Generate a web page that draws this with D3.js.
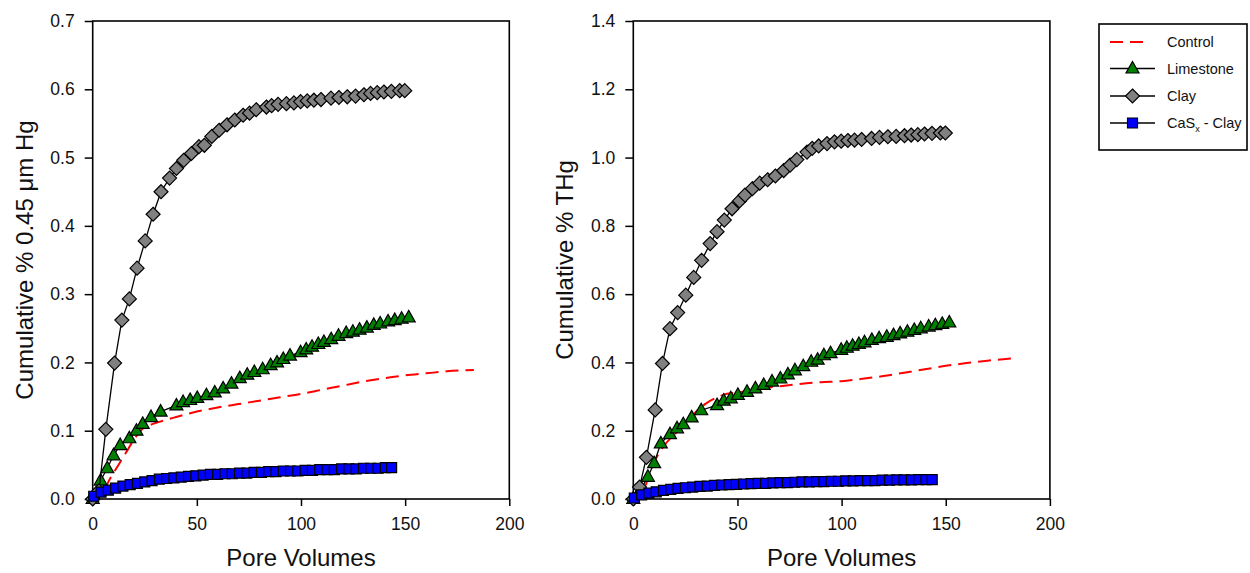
<!DOCTYPE html>
<html>
<head>
<meta charset="utf-8">
<script src="https://cdn.jsdelivr.net/npm/d3@7"></script>
<style>
  html, body { margin: 0; padding: 0; background: #fff; }
  svg { display: block; font-family: Arial, "Liberation Sans", sans-serif; }
</style>
</head>
<body>
<svg id="chart" width="1250" height="573"></svg>
<script>
// ---------- DATA ----------
const xTicks = [0, 50, 100, 150, 200];
const yTicksLeft = [0.0, 0.1, 0.2, 0.3, 0.4, 0.5, 0.6, 0.7];
const yTicksRight = [0.0, 0.2, 0.4, 0.6, 0.8, 1.0, 1.2, 1.4];
const legendLabels = ["Control", "Limestone", "Clay", "CaSx - Clay"];

// Control (dashed line)
const controlXLeft = [6, 8, 12, 16, 20, 24, 28, 32, 40, 50, 60, 70, 80, 90, 100, 110, 120, 130, 140, 150, 160, 170, 183];
const controlYLeft = [0.015, 0.028, 0.048, 0.068, 0.088, 0.103, 0.109, 0.113, 0.120, 0.128, 0.134, 0.139, 0.144, 0.149, 0.154, 0.160, 0.166, 0.172, 0.177, 0.181, 0.184, 0.187, 0.189];
const controlXRight = [6, 8, 11, 15, 20, 25, 30, 35, 40, 45, 50, 55, 60, 70, 80, 90, 100, 110, 120, 130, 140, 150, 160, 170, 183];
const controlYRight = [0.04, 0.08, 0.12, 0.158, 0.19, 0.22, 0.255, 0.28, 0.297, 0.308, 0.312, 0.316, 0.322, 0.330, 0.337, 0.342, 0.345, 0.352, 0.360, 0.370, 0.380, 0.390, 0.398, 0.405, 0.412];

// Limestone (triangles)
const limeX = [0, 3.8, 7, 10, 13.2, 17.6, 21, 24, 28, 32.6, 40.2, 43.4, 46.8, 50.2, 54.6, 58.6, 62.6, 66.6, 70.6, 74.2, 77.6, 81.6, 85.4, 88.5, 91.5, 94.7, 99.8, 102.5, 105.3, 108.3, 111, 114.5, 118, 121.7, 124.9, 128.1, 131.6, 134.9, 138, 141.8, 145, 148.3, 151.7];
const limeYLeft = [0, 0.027, 0.045, 0.064, 0.079, 0.089, 0.100, 0.110, 0.120, 0.128, 0.137, 0.142, 0.145, 0.148, 0.152, 0.156, 0.162, 0.169, 0.177, 0.182, 0.186, 0.190, 0.196, 0.200, 0.205, 0.210, 0.215, 0.219, 0.223, 0.227, 0.230, 0.234, 0.239, 0.243, 0.245, 0.248, 0.251, 0.255, 0.257, 0.260, 0.262, 0.264, 0.266];
const limeYRight = [0, 0.03, 0.065, 0.105, 0.163, 0.19, 0.207, 0.219, 0.239, 0.260, 0.275, 0.288, 0.295, 0.305, 0.314, 0.324, 0.334, 0.344, 0.353, 0.365, 0.377, 0.389, 0.402, 0.408, 0.421, 0.427, 0.437, 0.443, 0.449, 0.454, 0.459, 0.466, 0.471, 0.475, 0.480, 0.485, 0.490, 0.495, 0.500, 0.505, 0.509, 0.513, 0.517];

// Clay (diamonds)
const clayX = [0, 3, 6.3, 10.5, 14, 17.6, 21.3, 25.2, 29, 32.8, 36.9, 40.2, 43.7, 47.4, 51, 53.6, 57.2, 60.7, 64.5, 68.2, 72.2, 75.3, 78.5, 83.4, 85.9, 89, 93, 96.6, 99.8, 103, 106.2, 109.6, 114.4, 118.2, 122.2, 126.2, 130.2, 133.4, 136.6, 139.8, 143.4, 147.4, 149.8];
const clayYLeft = [0, 0.012, 0.102, 0.199, 0.262, 0.293, 0.338, 0.378, 0.417, 0.450, 0.470, 0.484, 0.496, 0.506, 0.516, 0.518, 0.531, 0.540, 0.548, 0.555, 0.562, 0.565, 0.570, 0.574, 0.576, 0.578, 0.579, 0.580, 0.582, 0.583, 0.584, 0.585, 0.587, 0.588, 0.589, 0.590, 0.592, 0.594, 0.595, 0.596, 0.597, 0.598, 0.598];
const clayYRight = [0, 0.035, 0.122, 0.261, 0.397, 0.499, 0.546, 0.597, 0.649, 0.699, 0.748, 0.783, 0.817, 0.850, 0.873, 0.890, 0.909, 0.925, 0.935, 0.946, 0.962, 0.978, 0.994, 1.016, 1.027, 1.034, 1.041, 1.046, 1.048, 1.050, 1.051, 1.053, 1.056, 1.059, 1.061, 1.062, 1.064, 1.066, 1.067, 1.069, 1.071, 1.072, 1.072];

// CaSx - Clay (squares)
const casxX = [0.5, 4, 7.5, 11, 14.5, 18, 21.5, 25, 28.5, 32, 35.5, 39, 42.5, 46, 49.5, 53, 56.5, 60, 63.5, 67, 70.5, 74, 77.5, 81, 84.5, 88, 91.5, 95, 98.5, 102, 105.5, 109, 112.5, 116, 119.5, 123, 126.5, 130, 133.5, 137, 140.5, 143.5];
const casxYLeft = [0.004, 0.010, 0.013, 0.016, 0.019, 0.021, 0.023, 0.025, 0.027, 0.029, 0.030, 0.031, 0.032, 0.033, 0.034, 0.035, 0.036, 0.036, 0.037, 0.037, 0.038, 0.038, 0.039, 0.039, 0.040, 0.040, 0.041, 0.041, 0.041, 0.042, 0.042, 0.043, 0.043, 0.043, 0.044, 0.044, 0.044, 0.045, 0.045, 0.045, 0.046, 0.046];
const casxYRight = [0.003, 0.012, 0.017, 0.021, 0.025, 0.028, 0.031, 0.033, 0.035, 0.037, 0.038, 0.040, 0.041, 0.042, 0.043, 0.044, 0.045, 0.046, 0.046, 0.047, 0.048, 0.048, 0.049, 0.050, 0.050, 0.051, 0.051, 0.052, 0.052, 0.053, 0.053, 0.054, 0.054, 0.054, 0.055, 0.055, 0.056, 0.056, 0.056, 0.057, 0.057, 0.057];

// ---------- DRAWING ----------
const svg = d3.select("#chart");
const zip = (xs, ys) => xs.map((x, i) => [x, ys[i]]);

const shapes = {
  triangle: "M0,-7L6.5,4.5L-6.5,4.5Z",
  diamond: "M0,-7L7,0L0,7L-7,0Z",
  square: "M-5,-5L5,-5L5,5L-5,5Z"
};
const fills = { triangle: "#008000", diamond: "#808080", square: "#0000ff" };

function panel(opts) {
  const x = d3.scaleLinear().domain([0, 200]).range([opts.left, opts.left + 416.6]);
  const y = d3.scaleLinear().domain([0, opts.ymax]).range([499, 21]);
  const g = svg.append("g");

  // axes
  const ya = g.append("g").attr("transform", `translate(${opts.left},0)`)
    .call(d3.axisLeft(y).tickValues(opts.yTicks).tickFormat(d3.format(".1f")).tickSize(8).tickPadding(10));
  const xa = g.append("g").attr("transform", `translate(0,499)`)
    .call(d3.axisBottom(x).tickValues(xTicks).tickFormat(d3.format("d")).tickSize(7).tickPadding(12));
  [ya, xa].forEach(a => {
    a.select(".domain").remove();
    a.selectAll("line").attr("stroke", "#000").attr("stroke-width", 1.5);
    a.selectAll("text").attr("fill", "#111").style("font-size", "17.5px")
      .style("font-family", "Arial, 'Liberation Sans', sans-serif");
  });

  // frame
  g.append("rect").attr("x", x(0)).attr("y", y(opts.ymax))
    .attr("width", x(200) - x(0)).attr("height", y(0) - y(opts.ymax))
    .attr("fill", "none").attr("stroke", "#000").attr("stroke-width", 1.6);

  // axis titles
  g.append("text").attr("x", (x(0) + x(200)) / 2).attr("y", 566)
    .attr("text-anchor", "middle").style("font-size", "24px").attr("fill", "#111").text("Pore Volumes");
  g.append("text").attr("transform", `translate(${opts.titleX},260) rotate(-90)`)
    .attr("text-anchor", "middle").style("font-size", "24px").attr("fill", "#111").text(opts.yTitle);

  const line = d3.line().x(d => x(d[0])).y(d => y(d[1]));

  // control
  g.append("path").datum(zip(opts.controlX, opts.controlY)).attr("d", line.curve(d3.curveMonotoneX))
    .attr("fill", "none").attr("stroke", "#ff0000").attr("stroke-width", 2).attr("stroke-dasharray", "13,7");
  line.curve(d3.curveLinear);

  const series = [
    { data: zip(limeX, opts.limeY), shape: "triangle" },
    { data: zip(clayX, opts.clayY), shape: "diamond" },
    { data: zip(casxX, opts.casxY), shape: "square" }
  ];
  series.forEach(s => {
    g.append("path").datum(s.data).attr("d", line)
      .attr("fill", "none").attr("stroke", "#000").attr("stroke-width", 1.3);
    g.append("g").selectAll("path").data(s.data).join("path")
      .attr("transform", d => `translate(${x(d[0])},${y(d[1])})`)
      .attr("d", shapes[s.shape]).attr("fill", fills[s.shape])
      .attr("stroke", "#000").attr("stroke-width", 1.2).attr("stroke-linejoin", "miter");
  });
}

panel({ left: 92.7, ymax: 0.7, yTicks: yTicksLeft, titleX: 33, yTitle: "Cumulative % 0.45 \u03BCm Hg",
  controlX: controlXLeft, controlY: controlYLeft, limeY: limeYLeft, clayY: clayYLeft, casxY: casxYLeft });
panel({ left: 633.3, ymax: 1.4, yTicks: yTicksRight, titleX: 573, yTitle: "Cumulative % THg",
  controlX: controlXRight, controlY: controlYRight, limeY: limeYRight, clayY: clayYRight, casxY: casxYRight });

// legend
const lg = svg.append("g");
lg.append("rect").attr("x", 1099).attr("y", 24).attr("width", 148).attr("height", 126)
  .attr("fill", "#fff").attr("stroke", "#000").attr("stroke-width", 1.6);
const legendRows = [
  { y: 42, shape: null },
  { y: 68.5, shape: "triangle" },
  { y: 96, shape: "diamond" },
  { y: 123, shape: "square" }
];
legendRows.forEach((r, i) => {
  if (r.shape === null) {
    lg.append("line").attr("x1", 1110).attr("x2", 1150).attr("y1", r.y).attr("y2", r.y)
      .attr("stroke", "#ff0000").attr("stroke-width", 2).attr("stroke-dasharray", "13,7");
  } else {
    lg.append("line").attr("x1", 1110).attr("x2", 1155).attr("y1", r.y).attr("y2", r.y)
      .attr("stroke", "#000").attr("stroke-width", 1.3);
    lg.append("path").attr("transform", `translate(1132.5,${r.y})`).attr("d", shapes[r.shape])
      .attr("fill", fills[r.shape]).attr("stroke", "#000").attr("stroke-width", 1.2);
  }
  const t = lg.append("text").attr("x", 1167).attr("y", r.y + 5).style("font-size", "14.5px").attr("fill", "#111");
  if (i === 3) {
    t.append("tspan").text("CaS");
    t.append("tspan").attr("dy", 4).style("font-size", "9px").text("x");
    t.append("tspan").attr("dy", -4).text(" - Clay");
  } else {
    t.text(legendLabels[i]);
  }
});
</script>
</body>
</html>
